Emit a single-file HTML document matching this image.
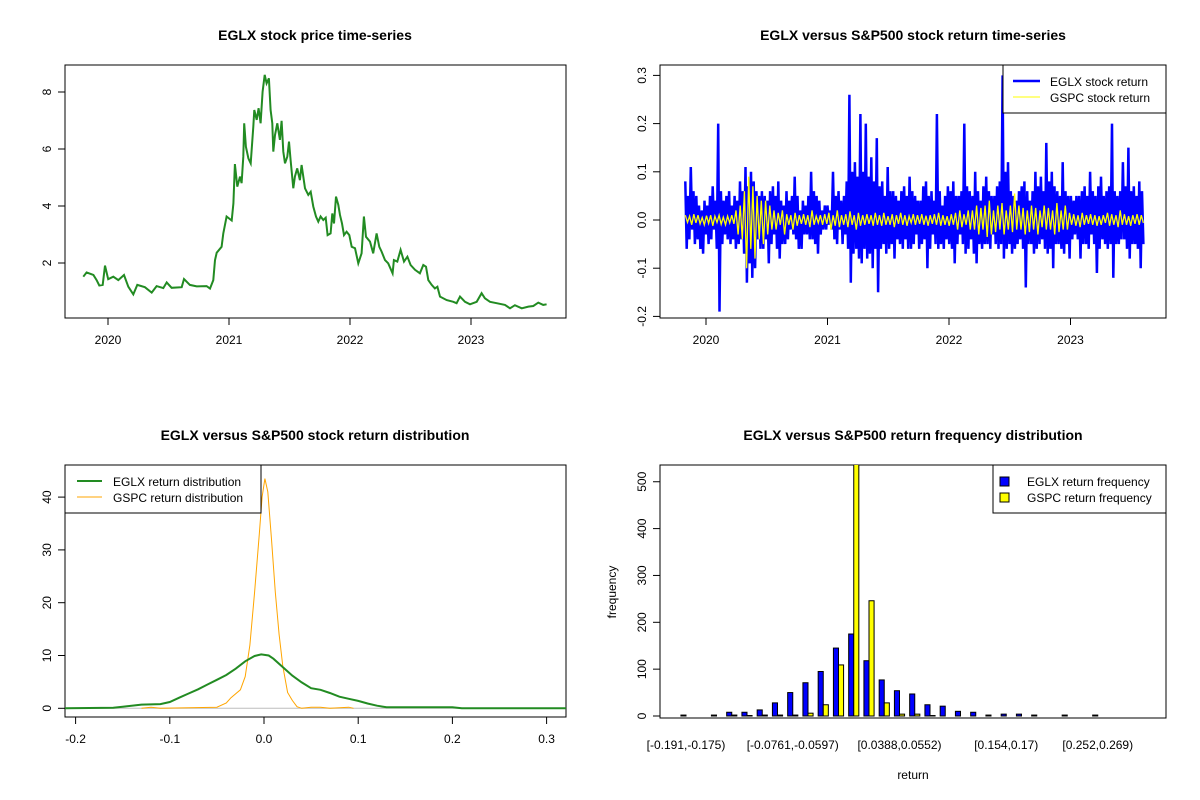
<!DOCTYPE html>
<html><head><meta charset="utf-8"><style>
html,body{margin:0;padding:0;background:#fff}
svg{font-family:"Liberation Sans",Arial,sans-serif;display:block}
.t{font-weight:bold;font-size:14px;text-anchor:middle}
.tk{font-size:12px}
</style></head><body>
<svg id="s" width="1200" height="800" xmlns="http://www.w3.org/2000/svg">
<defs>
<clipPath id="c1"><rect x="65" y="65" width="501" height="253"/></clipPath>
<clipPath id="c2"><rect x="660" y="65" width="506" height="253"/></clipPath>
<clipPath id="c3"><rect x="65" y="465" width="501" height="252"/></clipPath>
<clipPath id="c4"><rect x="660" y="465" width="506" height="253"/></clipPath>
</defs>
<text class="t" x="315" y="40">EGLX stock price time-series</text>
<text class="t" x="913" y="40">EGLX versus S&amp;P500 stock return time-series</text>
<text class="t" x="315" y="440">EGLX versus S&amp;P500 stock return distribution</text>
<text class="t" x="913" y="440">EGLX versus S&amp;P500 return frequency distribution</text>
<g id="p1"></g>
<g id="p2"></g>
<g id="p3"></g>
<g id="p4"></g>
</svg>
<script>
const priceYears=[2019.796,2019.823,2019.879,2019.906,2019.928,2019.956,2019.975,2020.002,2020.044,2020.085,2020.132,2020.168,2020.209,2020.242,2020.305,2020.361,2020.402,2020.457,2020.485,2020.526,2020.609,2020.628,2020.677,2020.733,2020.815,2020.843,2020.870,2020.884,2020.898,2020.939,2020.953,2020.980,2021.022,2021.036,2021.049,2021.069,2021.091,2021.104,2021.118,2021.126,2021.140,2021.160,2021.179,2021.201,2021.209,2021.229,2021.245,2021.261,2021.278,2021.295,2021.311,2021.330,2021.344,2021.358,2021.366,2021.380,2021.399,2021.421,2021.435,2021.449,2021.463,2021.482,2021.496,2021.509,2021.531,2021.545,2021.564,2021.586,2021.600,2021.628,2021.655,2021.675,2021.697,2021.719,2021.738,2021.757,2021.779,2021.799,2021.815,2021.840,2021.854,2021.868,2021.884,2021.903,2021.917,2021.934,2021.950,2021.972,2021.994,2022.014,2022.041,2022.069,2022.096,2022.115,2022.132,2022.165,2022.192,2022.220,2022.242,2022.261,2022.289,2022.316,2022.352,2022.363,2022.391,2022.418,2022.446,2022.474,2022.501,2022.537,2022.578,2022.606,2022.628,2022.647,2022.675,2022.702,2022.722,2022.744,2022.799,2022.854,2022.881,2022.909,2022.950,2022.992,2023.047,2023.088,2023.115,2023.157,2023.212,2023.281,2023.322,2023.363,2023.419,2023.474,2023.515,2023.556,2023.597,2023.625];
const priceValues=[1.52,1.67,1.58,1.40,1.21,1.23,1.91,1.43,1.52,1.40,1.58,1.17,0.90,1.23,1.15,0.96,1.19,1.12,1.32,1.13,1.15,1.44,1.23,1.18,1.19,1.10,1.40,2.10,2.36,2.57,3.04,3.63,3.49,4.09,5.47,4.68,5.03,4.80,5.73,6.90,6.08,5.67,5.50,6.78,7.37,7.02,7.43,6.90,8.01,8.60,8.30,8.48,7.37,6.90,5.91,6.49,6.90,6.32,6.99,5.91,5.50,5.73,6.26,5.61,4.62,5.03,5.32,4.91,5.44,4.62,4.39,4.50,3.98,3.63,3.45,3.63,3.51,3.59,2.98,3.04,3.74,3.39,4.33,4.04,3.68,3.39,2.98,3.10,2.98,2.57,2.52,1.99,2.34,3.63,2.92,2.75,2.34,3.04,2.57,2.40,2.10,1.99,1.64,2.10,2.05,2.46,2.05,2.22,1.93,1.76,1.64,1.93,1.87,1.40,1.23,1.11,1.17,0.82,0.70,0.64,0.59,0.82,0.64,0.55,0.64,0.94,0.76,0.64,0.59,0.53,0.41,0.52,0.41,0.47,0.49,0.61,0.53,0.55];
const priceTicks=[2,4,6,8];
const yearTicks=[2020,2021,2022,2023];
const eglxReturns=[0.08,-0.06,0.05,-0.04,0.11,-0.02,0.06,-0.05,0.05,-0.04,0.03,-0.06,0.02,-0.07,0.04,-0.03,0.03,-0.05,0.05,-0.04,0.07,-0.02,0.04,-0.06,0.2,-0.19,0.06,-0.05,0.04,-0.03,0.05,-0.04,0.06,-0.05,0.03,-0.04,
0.05,-0.06,0.04,-0.05,0.08,-0.04,0.06,-0.07,0.11,-0.13,0.07,-0.09,0.1,-0.12,0.08,-0.1,0.06,-0.04,0.05,-0.06,
0.06,-0.06,0.05,-0.04,0.04,-0.09,0.06,-0.05,0.07,-0.03,0.05,-0.06,0.08,-0.08,0.04,-0.05,0.03,-0.05,0.06,-0.04,0.04,-0.02,0.05,-0.03,0.09,-0.04,0.05,-0.06,0.02,-0.06,0.04,-0.03,0.03,-0.03,0.05,-0.04,0.1,-0.04,0.06,-0.05,0.05,-0.07,0.04,-0.03,0.02,-0.02,0.03,-0.02,0.03,-0.01,0.02,-0.02,
0.1,-0.04,0.05,-0.05,0.06,-0.02,0.04,-0.05,0.05,-0.03,0.08,-0.06,0.26,-0.13,0.1,-0.07,0.12,-0.06,0.09,-0.08,0.22,-0.09,0.1,-0.06,0.2,-0.08,0.09,-0.07,0.13,-0.1,0.08,-0.06,0.17,-0.15,0.07,-0.06,0.08,-0.05,0.05,-0.07,0.11,-0.06,0.06,-0.05,0.06,-0.08,0.05,-0.04,0.04,-0.05,0.06,-0.06,0.07,-0.04,0.05,-0.06,0.09,-0.06,0.06,-0.05,0.05,-0.03,0.04,-0.06,0.04,-0.05,0.07,-0.04,0.08,-0.1,0.05,-0.06,0.06,-0.03,0.04,-0.05,0.22,-0.06,0.06,-0.05,0.03,-0.06,0.05,-0.04,0.07,-0.05,0.06,-0.06,0.08,-0.09,0.05,-0.05,
0.05,-0.03,0.06,-0.05,0.2,-0.07,0.07,-0.06,0.06,-0.04,0.05,-0.07,0.1,-0.09,0.06,-0.05,0.04,-0.06,0.07,-0.05,0.09,-0.05,0.06,-0.06,0.05,-0.03,0.05,-0.05,0.07,-0.06,0.08,-0.05,0.3,-0.08,0.1,-0.06,0.12,-0.05,0.06,-0.07,0.05,-0.06,0.04,-0.05,0.06,-0.04,0.07,-0.06,0.08,-0.14,0.06,-0.05,0.04,-0.05,0.06,-0.07,0.1,-0.06,0.07,-0.05,0.09,-0.04,0.06,-0.06,0.16,-0.07,0.08,-0.06,0.1,-0.1,0.07,-0.05,0.06,-0.05,0.05,-0.06,0.12,-0.07,0.06,-0.05,0.05,-0.08,0.05,-0.04,0.04,-0.03,0.05,-0.04,
0.05,-0.08,0.06,-0.05,0.07,-0.05,0.05,-0.06,0.1,-0.03,0.06,-0.05,0.05,-0.11,0.07,-0.06,0.09,-0.04,0.05,-0.05,0.06,-0.06,0.07,-0.05,0.2,-0.12,0.06,-0.05,0.05,-0.05,0.06,-0.04,0.12,-0.04,0.07,-0.06,0.15,-0.08,0.06,-0.05,0.07,-0.05,0.05,-0.06,0.08,-0.1,0.06,-0.05];
const gspcReturns=[0.01,-0.005,0.008,-0.01,0.012,-0.006,0.01,-0.008,0.005,-0.01,0.009,-0.007,0.01,-0.012,0.008,-0.005,0.01,-0.009,0.006,-0.01,0.008,-0.006,0.01,-0.008,
0.02,-0.03,0.03,-0.04,0.06,-0.1,0.09,-0.06,0.07,-0.08,0.05,-0.04,0.04,-0.05,0.04,-0.03,0.03,-0.02,
0.02,-0.02,0.015,-0.01,0.02,-0.03,0.012,-0.01,0.01,-0.02,0.015,-0.012,0.01,-0.008,0.012,-0.01,0.01,-0.015,0.02,-0.01,0.008,-0.006,0.01,-0.01,0.012,-0.008,
0.015,-0.02,0.01,-0.012,0.02,-0.015,0.01,-0.01,0.012,-0.015,0.018,-0.01,0.01,-0.02,0.015,-0.012,0.01,-0.01,0.012,-0.008,0.01,-0.012,0.015,-0.01,
0.01,-0.012,0.015,-0.01,0.008,-0.01,0.012,-0.015,0.01,-0.008,0.015,-0.01,0.01,-0.012,0.008,-0.006,0.012,-0.01,0.01,-0.008,0.012,-0.01,0.009,-0.012,
0.01,-0.008,0.012,-0.01,0.015,-0.012,0.01,-0.01,0.008,-0.012,0.012,-0.01,0.015,-0.02,0.02,-0.015,0.012,-0.01,0.02,-0.02,
0.02,-0.02,0.03,-0.03,0.025,-0.02,0.03,-0.035,0.04,-0.03,0.02,-0.025,0.03,-0.02,0.035,-0.03,0.02,-0.02,0.03,-0.025,0.055,-0.02,0.03,-0.02,0.025,-0.03,0.02,-0.025,0.03,-0.02,0.025,-0.03,0.02,-0.015,0.03,-0.02,0.025,-0.02,0.02,-0.03,0.035,-0.025,0.02,-0.02,0.03,-0.02,
0.015,-0.01,0.012,-0.012,0.01,-0.015,0.015,-0.01,0.01,-0.008,0.012,-0.01,0.01,-0.012,0.008,-0.01,0.01,-0.006,0.015,-0.012,0.012,-0.01,0.01,-0.015,0.02,-0.01,0.012,-0.01,0.008,-0.012,0.01,-0.008,0.012,-0.01,0.01,-0.006];
const returnTicks=[-0.2,-0.1,0.0,0.1,0.2,0.3];
const retStart=2019.83, retEnd=2023.6;
const eglxDensX=[-0.22,-0.16,-0.15,-0.13,-0.11,-0.1,-0.09,-0.08,-0.07,-0.06,-0.05,-0.04,-0.03,-0.02,-0.01,-0.003,0.005,0.01,0.02,0.03,0.04,0.05,0.06,0.07,0.08,0.09,0.1,0.11,0.12,0.13,0.14,0.2,0.21,0.33];
const eglxDensY=[0,0.1,0.3,0.7,0.8,1.2,2,2.8,3.6,4.5,5.4,6.3,7.5,8.9,9.9,10.2,10,9.4,7.8,6.2,4.9,3.8,3.5,2.9,2.2,1.8,1.4,0.9,0.5,0.2,0.2,0.2,0,0];
const gspcDensX=[-0.13,-0.12,-0.11,-0.05,-0.04,-0.035,-0.025,-0.02,-0.015,-0.01,-0.005,-0.002,0.001,0.004,0.008,0.012,0.016,0.02,0.025,0.03,0.035,0.04,0.05,0.06,0.07,0.09,0.095];
const gspcDensY=[0,0.2,0,0.2,1,2,3.5,6,12,22,33,40,43.5,41,32,22,14,8,3,1.5,0.3,0,0.2,0.2,0,0.2,0];
const densXTicks=[-0.2,-0.1,0.0,0.1,0.2,0.3];
const densYTicks=[0,10,20,30,40];
const freqEglx=[2,0,2,8,8,13,28,50,71,95,145,175,118,77,54,47,24,21,10,8,2,4,4,2,0,2,0,2,0,0];
const freqGspc=[0,0,0,2,1,2,2,2,6,24,109,620,246,28,4,4,1,0,0,0,0,0,0,0,0,0,0,0,0,0];
const freqLabels={0:"[-0.191,-0.175)",7:"[-0.0761,-0.0597)",14:"[0.0388,0.0552)",21:"[0.154,0.17)",27:"[0.252,0.269)"};
const freqTicks=[0,100,200,300,400,500];

const NS="http://www.w3.org/2000/svg";
function mk(parent,tag,attrs,txt){const e=document.createElementNS(NS,tag);for(const k in attrs)e.setAttribute(k,attrs[k]);if(txt!==undefined)e.textContent=txt;parent.appendChild(e);return e;}
function box(g,x,y,w,h){const r=mk(g,'rect',{x:x,y:y,width:w,height:h,fill:'none',stroke:'#000','stroke-width':1});

}
function yAxis(g,x,ticks,fy,lab){mk(g,'line',{x1:x,x2:x,y1:fy(ticks[0]),y2:fy(ticks[ticks.length-1]),stroke:'#000'});
ticks.forEach(t=>{const y=fy(t);mk(g,'line',{x1:x-7,x2:x,y1:y,y2:y,stroke:'#000'});
const tx=mk(g,'text',{class:'tk',x:x-14,y:y,'text-anchor':'middle',transform:`rotate(-90 ${x-14} ${y})`},lab(t));

});}
function xAxis(g,y,ticks,fx,lab){mk(g,'line',{x1:fx(ticks[0]),x2:fx(ticks[ticks.length-1]),y1:y,y2:y,stroke:'#000'});
ticks.forEach(t=>{const x=fx(t);mk(g,'line',{x1:x,x2:x,y1:y,y2:y+7,stroke:'#000'});
const tx=mk(g,'text',{class:'tk',x:x,y:y+26,'text-anchor':'middle'},lab(t));

});}
function poly(g,xs,ys,fx,fy,attrs,clip,name){const p=xs.map((v,i)=>fx(v).toFixed(1)+','+fy(ys[i]).toFixed(1)).join(' ');
const e=mk(g,'polyline',Object.assign({points:p,fill:'none','clip-path':`url(#${clip})`},attrs));

return e;}

// Panel 1
(function(){const g=document.getElementById('p1');
const fx=v=>108+(v-2020)*121, fy=v=>263-(v-2)*28.5;
box(g,65,65,501,253);
yAxis(g,65,priceTicks,fy,t=>String(t));
xAxis(g,318,yearTicks,fx,t=>String(t));
poly(g,priceYears,priceValues,fx,fy,{stroke:'#228B22','stroke-width':2},'c1','price-line');})();

// Panel 2
(function(){const g=document.getElementById('p2');
const fx=v=>706+(v-2020)*121.5, fy=v=>220-v*482;
box(g,660,65,506,253);
yAxis(g,660,returnTicks,fy,t=>t.toFixed(1));
xAxis(g,318,yearTicks,fx,t=>String(t));
const ex=eglxReturns.map((v,i)=>retStart+(retEnd-retStart)*i/(eglxReturns.length-1));
poly(g,ex,eglxReturns,fx,fy,{stroke:'#0000ff','stroke-width':2.5},'c2','eglx-return-line');
const gx=gspcReturns.map((v,i)=>retStart+(retEnd-retStart)*i/(gspcReturns.length-1));
poly(g,gx,gspcReturns,fx,fy,{stroke:'#ffff00','stroke-width':1.3},'c2','gspc-return-line');
const lg=mk(g,'g',{});


mk(lg,'rect',{x:1003,y:65,width:163,height:48,fill:'#fff',stroke:'#000'});
mk(lg,'line',{x1:1013,x2:1040,y1:81,y2:81,stroke:'#0000ff','stroke-width':2.5});
mk(lg,'line',{x1:1013,x2:1040,y1:97,y2:97,stroke:'#ffff00','stroke-width':1});
mk(lg,'text',{class:'tk',x:1050,y:86},'EGLX stock return');
mk(lg,'text',{class:'tk',x:1050,y:102},'GSPC stock return');})();

// Panel 3
(function(){const g=document.getElementById('p3');
const fx=v=>264+v*942, fy=v=>708.3-v*5.28;
box(g,65,465,501,252);
yAxis(g,65,densYTicks,fy,t=>String(t));
xAxis(g,717,densXTicks,fx,t=>t.toFixed(1));
const z=mk(g,'line',{x1:65,x2:566,y1:fy(0),y2:fy(0),stroke:'#bebebe'});


poly(g,gspcDensX,gspcDensY,fx,fy,{stroke:'#ffa500','stroke-width':1},'c3','gspc-density-line');
poly(g,eglxDensX,eglxDensY,fx,fy,{stroke:'#228B22','stroke-width':2},'c3','eglx-density-line');
const lg=mk(g,'g',{});


mk(lg,'rect',{x:65,y:465,width:196,height:48,fill:'#fff',stroke:'#000'});
mk(lg,'line',{x1:77,x2:102,y1:481,y2:481,stroke:'#228B22','stroke-width':2});
mk(lg,'line',{x1:77,x2:102,y1:497,y2:497,stroke:'#ffa500','stroke-width':1});
mk(lg,'text',{class:'tk',x:113,y:486},'EGLX return distribution');
mk(lg,'text',{class:'tk',x:113,y:502},'GSPC return distribution');})();

// Panel 4
(function(){const g=document.getElementById('p4');
const u=15.25/3, fy=v=>716-v*0.4685, gx=i=>686+i*15.25;
box(g,660,465,506,253);
yAxis(g,660,freqTicks,fy,t=>String(t));
const bars=mk(g,'g',{'clip-path':'url(#c4)'});
freqEglx.forEach((v,i)=>{const r=mk(bars,'rect',{x:gx(i)-u,y:fy(v),width:u,height:fy(0)-fy(v),fill:'#0000ff',stroke:'#000','stroke-width':1});

});
freqGspc.forEach((v,i)=>{const r=mk(bars,'rect',{x:gx(i),y:fy(v),width:u,height:fy(0)-fy(v),fill:'#ffff00',stroke:'#000','stroke-width':1});

});
for(const k in freqLabels){const t=mk(g,'text',{class:'tk',x:gx(+k),y:749,'text-anchor':'middle'},freqLabels[k]);

}
const xl=mk(g,'text',{class:'tk',x:913,y:779,'text-anchor':'middle'},'return');


const yl=mk(g,'text',{class:'tk',x:616,y:592,'text-anchor':'middle',transform:'rotate(-90 616 592)'},'frequency');


const lg=mk(g,'g',{});


mk(lg,'rect',{x:993,y:465,width:173,height:48,fill:'#fff',stroke:'#000'});
mk(lg,'rect',{x:1000,y:477,width:9,height:9,fill:'#0000ff',stroke:'#000'});
mk(lg,'rect',{x:1000,y:493,width:9,height:9,fill:'#ffff00',stroke:'#000'});
mk(lg,'text',{class:'tk',x:1027,y:486},'EGLX return frequency');
mk(lg,'text',{class:'tk',x:1027,y:502},'GSPC return frequency');})();
</script>
</body></html>
